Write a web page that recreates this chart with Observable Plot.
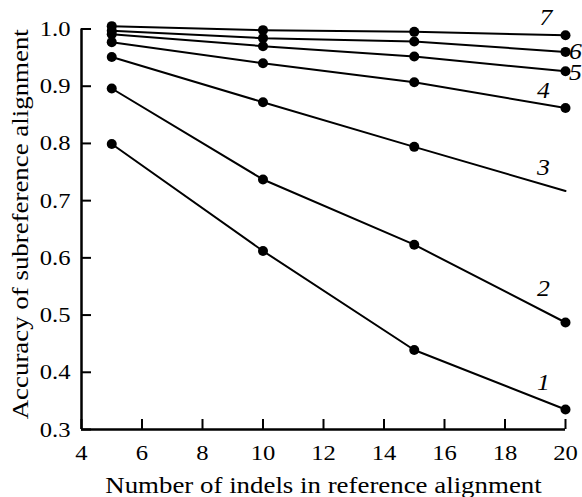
<!DOCTYPE html>
<html><head><meta charset="utf-8">
<script src="https://cdn.jsdelivr.net/npm/d3@7"></script>
<script src="https://cdn.jsdelivr.net/npm/@observablehq/plot@0.6"></script>
<style>body{margin:0;background:#fff;}</style>
</head><body><div id="chart"></div>
<script>
// Data
const indels = [5, 10, 15, 20];
const acc1 = [0.799, 0.612, 0.439, 0.335];
const acc2 = [0.896, 0.737, 0.623, 0.487];
const acc3 = [0.951, 0.872, 0.794, 0.717];
const acc4 = [0.977, 0.940, 0.907, 0.862];
const acc5 = [0.991, 0.970, 0.952, 0.926];
const acc6 = [0.997, 0.984, 0.978, 0.960];
const acc7 = [1.005, 0.998, 0.995, 0.989];
const curveNames = ["1", "2", "3", "4", "5", "6", "7"];
const curveValues = [acc1, acc2, acc3, acc4, acc5, acc6, acc7];
// whether each point carries a dot (curve 3 has none at 20)
const curveDots = [
  [1,1,1,1],[1,1,1,1],[1,1,1,0],[1,1,1,1],[1,1,1,1],[1,1,1,1],[1,1,1,1]
];
const xTicks = [4, 6, 8, 10, 12, 14, 16, 18, 20];
const yTicks = [0.3, 0.4, 0.5, 0.6, 0.7, 0.8, 0.9, 1.0];
const xTitle = "Number of indels in reference alignment";
const yTitle = "Accuracy of subreference alignment";
// curve label anchors (data units)
const labelX = [19.27, 19.27, 19.27, 19.27, 20.33, 20.33, 19.35];
const labelY = [0.382, 0.547, 0.758, 0.893, 0.924, 0.960, 1.020];
const labelAnchor = ["middle","middle","middle","middle","start","start","middle"];

const rows = curveNames.flatMap((name, i) =>
  indels.map((x, j) => ({curve: name, x, y: curveValues[i][j], dot: curveDots[i][j]})));
const labels = curveNames.map((name, i) => ({text: name, x: labelX[i], y: labelY[i], anchor: labelAnchor[i]}));

const fontFamily = "'Liberation Serif', 'Times New Roman', serif";
const W = 582, H = 497, mL = 81, mR = 17, mT = 28.5, mB = 68;
const frameW = W - mL - mR, frameH = H - mT - mB, tickLen = 10;

const chart = Plot.plot({
  width: W, height: H,
  marginLeft: mL, marginRight: mR, marginTop: mT, marginBottom: mB,
  style: {fontFamily, background: "white", color: "black"},
  x: {domain: [4, 20]},
  y: {domain: [0.3, 1.0]},
  marks: [
    Plot.axisX({ticks: xTicks, tickSize: 0, tickPadding: 15, fontSize: 22, fontFamily, label: null, tickFormat: d => String(d)}),
    Plot.axisY({ticks: yTicks, tickSize: 0, tickPadding: 11, fontSize: 22, fontFamily, label: null, tickFormat: d3.format(".1f")}),
    Plot.tickX(xTicks, {x: d => d, insetTop: frameH - tickLen, stroke: "black", strokeWidth: 2}),
    Plot.tickY(yTicks, {y: d => d, insetRight: frameW - tickLen, stroke: "black", strokeWidth: 2}),
    Plot.ruleX([4], {y1: 0.3, y2: 1.0, strokeWidth: 2.5}),
    Plot.ruleY([0.3], {x1: 4, x2: 20, strokeWidth: 2.5}),
    Plot.line(rows, {x: "x", y: "y", z: "curve", stroke: "black", strokeWidth: 2}),
    Plot.dot(rows.filter(d => d.dot), {x: "x", y: "y", r: 5, fill: "black", stroke: null}),
    Plot.text(labels, {x: "x", y: "y", text: "text", textAnchor: d => d.anchor, fontSize: 23, fontStyle: "italic", fontFamily, fill: "black"}),
    Plot.text([xTitle], {frameAnchor: "bottom", textAnchor: "middle", lineAnchor: "bottom", dy: 63, fontSize: 24, fontFamily, fill: "black"}),
    Plot.text([yTitle], {frameAnchor: "left", textAnchor: "middle", lineAnchor: "middle", dx: -61, dy: -5, rotate: -90, fontSize: 24, fontFamily, fill: "black"})
  ]
});
document.getElementById("chart").appendChild(chart);

// widen glyphs horizontally to match the reference's wide serif lettering
const sx = 1.12;
chart.querySelectorAll("text").forEach(t => {
  const T = t.getAttribute("transform") || "";
  const X = parseFloat(t.getAttribute("x") || "0") || 0;
  t.setAttribute("transform", `${T} translate(${X},0) scale(${sx},1) translate(${-X},0)`);
});
</script>
</body></html>
